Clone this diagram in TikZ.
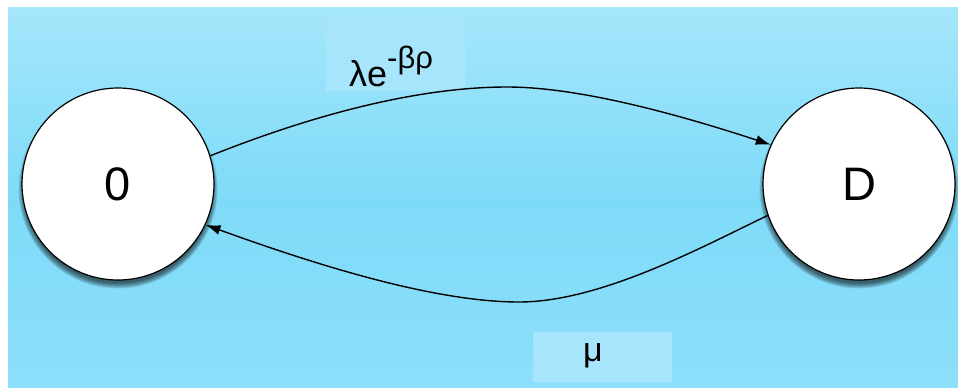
\documentclass[tikz,border=0pt]{standalone}
\usepackage{fontspec}
\setmainfont{Liberation Sans}
\usetikzlibrary{arrows.meta}
\definecolor{bgtop}{RGB}{165,230,251}
\definecolor{bgmid}{RGB}{126,219,248}
\definecolor{bgbot}{RGB}{140,223,250}
\definecolor{lblbox}{RGB}{166,229,252}
\tikzset{
  state/.style={circle, draw=black, line width=1.2pt, fill=white, minimum size=192pt, inner sep=0pt,
    font=\fontsize{47}{47}\selectfont},
  lbl/.style={fill=lblbox, inner sep=0pt, text=black},
  conn/.style={line width=1.4pt, -{Latex[length=15pt,width=10pt]}}
}
\begin{document}
\begin{tikzpicture}[x=1pt,y=-1pt]
\useasboundingbox (0,0) rectangle (958,389);
\fill[white] (0,0) rectangle (958,389);
\shade[top color=bgtop, bottom color=bgmid] (8,7) rectangle (958,200);
\shade[top color=bgmid, bottom color=bgbot] (8,199.5) rectangle (958,387);
\node[lbl, minimum width=139pt, minimum height=72pt] (lb1) at (395.5,55) {};
\node[lbl, minimum width=139pt, minimum height=50pt] (lb2) at (602,357) {};
\node[anchor=base west, inner sep=0pt] at (349,86) (t1) {\fontsize{36}{36}\selectfont λe\raisebox{0.5em}{\fontsize{31}{31}\selectfont -βρ}};
\node[anchor=base, inner sep=0pt] at (593,361) (t2) {\fontsize{34}{34}\selectfont μ};
\coordinate (c0) at (118,184);
\coordinate (cD) at (859,184);
\foreach \c in {c0,cD}{
  \foreach \i in {0,...,6}{
    \fill[black, opacity=0.11] ([yshift=-5pt]\c) circle ({99.5-\i*0.9});
  }
}
\node[state] (s0) at (c0) {0};
\node[state] (sD) at (cD) {D};
\coordinate (p1) at (507,87);
\coordinate (p2) at (519,302);
\draw[conn] (s0.17) .. controls (330,108) and (430,87) .. (p1) .. controls (580,87) and (680,115) .. (sD.156);
\draw[conn] (sD.-161) .. controls (700,248) and (600,302) .. (p2) .. controls (440,302) and (330,270) .. (s0.-25);
\end{tikzpicture}
\end{document}
